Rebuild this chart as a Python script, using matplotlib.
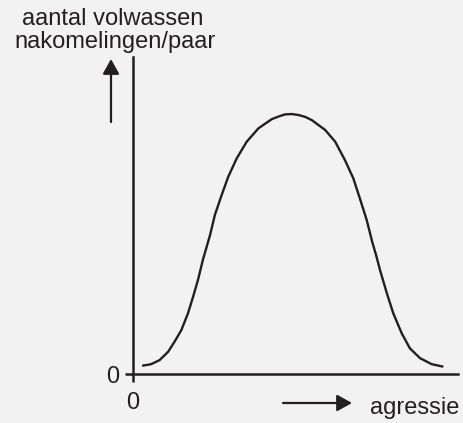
import matplotlib
matplotlib.use("Agg")
import matplotlib.pyplot as plt

# curve: aantal volwassen nakomelingen per paar tegen agressie (willekeurige eenheden)
agressie = [2.8, 5.6, 8.2, 10.8, 12.8, 14.9, 16.9, 18.5, 20.0, 21.5, 23.7, 25.2,
            27.3, 29.3, 31.9, 35.0, 38.6, 42.7, 45.0, 46.8, 48.9, 50.9, 53.0, 55.0,
            59.1, 62.2, 65.2, 67.8, 69.8, 71.9, 73.6, 74.8, 76.0, 78.1, 80.1, 82.7,
            85.2, 88.3, 91.9, 95.5]
nakomelingen = [2.6, 3.1, 4.4, 7.0, 10.2, 13.9, 19.1, 24.4, 29.7, 36.0, 43.8, 50.2,
                56.5, 62.2, 68.0, 73.3, 77.5, 80.4, 81.3, 81.9, 82.0, 81.7, 81.1, 80.1,
                77.0, 73.3, 67.5, 61.7, 55.4, 48.6, 41.7, 37.5, 32.8, 25.5, 19.1, 12.8,
                8.1, 5.0, 3.1, 2.3]

ylabel_lines = ["aantal volwassen", "nakomelingen/paar"]
xlabel = "agressie"

ink = "#231f20"
bg = "#f2f2f2"

plt.rcParams["font.family"] = ["Liberation Sans", "DejaVu Sans"]

fig = plt.figure(figsize=(4.64, 4.23), dpi=100, facecolor=bg)
ax = fig.add_axes([133 / 464, 49 / 423, 325 / 464, 317 / 423])
ax.set_facecolor(bg)

ax.plot(agressie, nakomelingen, color=ink, lw=1.7, solid_joinstyle="round",
        solid_capstyle="butt", antialiased=True)

ax.set_xlim(0, 100)
ax.set_ylim(0, 100)
for s in ["top", "right"]:
    ax.spines[s].set_visible(False)
for s in ["left", "bottom"]:
    ax.spines[s].set_linewidth(1.8)
    ax.spines[s].set_color(ink)

ax.set_xticks([0])
ax.set_yticks([0])
ax.set_xticklabels(["0"])
ax.set_yticklabels(["0"])
ax.tick_params(axis="both", direction="out", length=6, width=1.8, color=ink,
               labelsize=17, labelcolor=ink)
ax.tick_params(axis="x", pad=7)
ax.tick_params(axis="y", pad=4)

# titel boven de y-as
fig.text(113 / 464, 1 - 25 / 423, ylabel_lines[0], ha="center", va="baseline",
         fontsize=17, color=ink)
fig.text(115 / 464, 1 - 48 / 423, ylabel_lines[1], ha="center", va="baseline",
         fontsize=17, color=ink)

arrow = dict(arrowstyle="-|>,head_length=0.45,head_width=0.25", lw=1.6,
             color=ink, shrinkA=0, shrinkB=0, mutation_scale=20)
# pijl omhoog naast de y-as
ax.annotate("", xy=(111, 423 - 59), xytext=(111, 423 - 122),
            xycoords="figure pixels", textcoords="figure pixels", arrowprops=arrow)
# pijl naar rechts onder de x-as
ax.annotate("", xy=(352, 423 - 403), xytext=(283, 423 - 403),
            xycoords="figure pixels", textcoords="figure pixels", arrowprops=arrow)
fig.text(370 / 464, 1 - 414 / 423, xlabel, ha="left", va="baseline",
         fontsize=17, color=ink)

fig.savefig("out.png", dpi=100, facecolor=bg)
